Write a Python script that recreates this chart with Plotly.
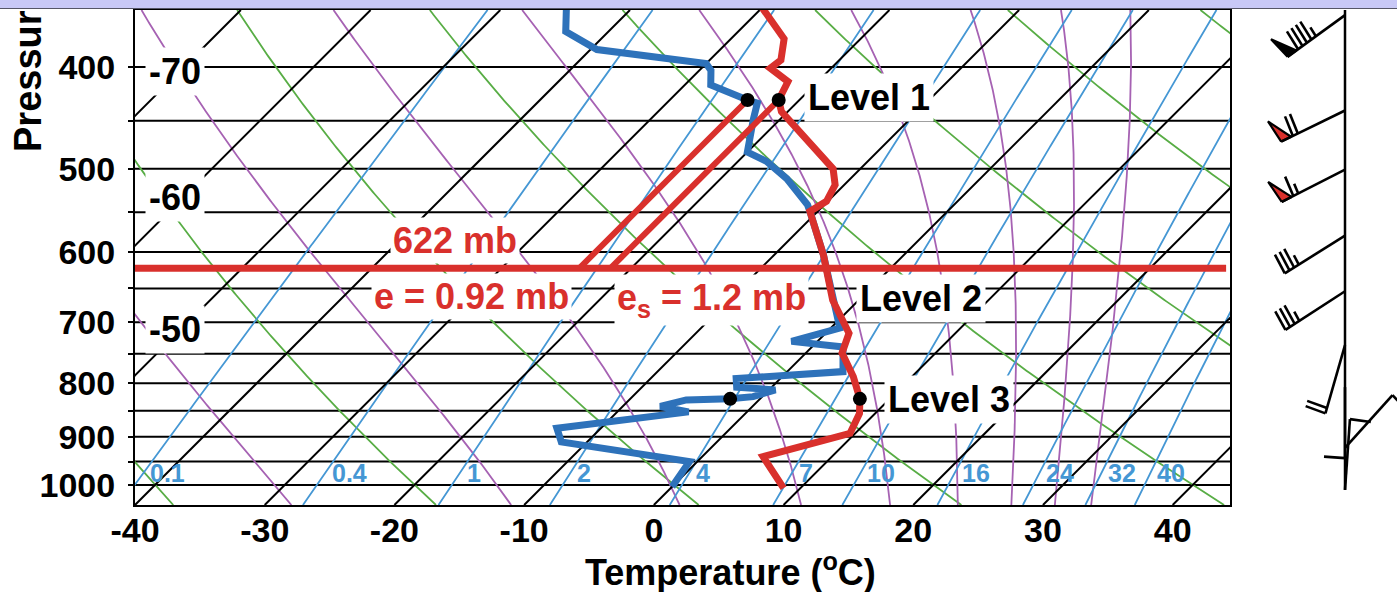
import numpy as np
import plotly.graph_objects as go

# ---------------------------------------------------------------- data
# Temperature sounding (pressure in mb, temperature in degC)
temp_p = [350, 376, 394, 401, 413, 430, 441, 468, 500, 518, 537, 549, 604, 667,
          717, 749, 789, 828, 855, 893, 940, 1007]
temp_c = [-30.2, -25.9, -24.5, -24.7, -22.3, -21.6, -20.5, -16.5, -12.1, -10.7,
          -10.1, -10.6, -6.2, -2.0, 1.8, 2.8, 5.5, 7.7, 8.8, 9.6, 4.7, 8.7]

# Dew-point sounding
dewp_p = [350, 370, 385, 392, 397, 403, 416, 430, 433, 448, 482, 492, 511, 541,
          549, 604, 667, 709, 730, 739, 780, 792, 807, 812, 824, 828, 830, 842,
          852, 883, 910, 950, 1004]
dewp_c = [-45.2, -43.3, -39.5, -33.7, -30.0, -29.1, -28.0, -24.0, -23.0, -22.1,
          -20.0, -17.8, -14.9, -11.3, -10.6, -6.2, -2.0, 0.7, -2.0, 2.4, 4.3,
          -3.4, -2.7, 0.5, -0.7, -2.3, -5.6, -7.1, -4.5, -13.4, -12.0, -0.6, 0.0]

# Marked levels (T and Td dots)
dot_p = [430, 828]
dot_t = [-21.6, 7.7]
dot_td = [-24.0, -2.3]

level_names = ["Level 1", "Level 2", "Level 3"]
level_p = [428, 664, 830]

# Vapour-pressure construction at Level 1
e_level_p = 622
e_text = "e = 0.92 mb"
es_text = "e<sub>s</sub> = 1.2 mb"

# Background lines
isobars = list(range(400, 1001, 50))
isotherms = list(range(-80, 41, 10))
dry_adiabats = list(range(-40, 101, 20))        # potential temperature, degC
moist_adiabats = list(range(-30, 131, 20))      # equivalent potential temperature, degC
mixing_ratios = [0.1, 0.4, 1, 2, 4, 7, 10, 16, 24, 32, 40]   # g/kg
mixing_labels = ["0.1", "0.4", "1", "2", "4", "7", "10", "16", "24", "32", "40"]

# Axis ticks
p_ticks = list(range(400, 1001, 100))
p_minor = list(range(450, 1000, 100))
t_ticks = list(range(-40, 41, 10))
isotherm_tags = [(-70, 404), (-60, 533), (-50, 712)]

# Winds (pressure mb, direction deg, speed kt)
wind_p = [357, 440, 501, 579, 654, 736, 807, 922, 1011]
wind_dir = [234, 244, 243, 238, 237, 196, 180, 42, 4]
wind_kt = [95, 70, 65, 35, 35, 20, 10, 10, 10]

# ---------------------------------------------------------------- geometry
W, H = 1397, 592
M_L, M_R, M_T, M_B = 135, 0, 10, 87
PLOT_W = 1095
PAPER_W = W - M_L - M_R
PLOT_H = H - M_T - M_B
X_DOM = PLOT_W / PAPER_W
P_BOT, P_TOP = 1045.0, 353.0
X_MIN, X_MAX = -40.0, 44.42

px_per_deg = PLOT_W / (X_MAX - X_MIN)
px_per_lnp = PLOT_H / np.log(P_BOT / P_TOP)
SKEW = px_per_lnp / px_per_deg          # isotherms at 45 degrees


def skew_x(t, p):
    return np.asarray(t, float) + SKEW * np.log(P_BOT / np.asarray(p, float))


def paper(px, py):
    return (px - M_L) / PAPER_W, (H - M_B - py) / PLOT_H


def p_to_py(p):
    return M_T + px_per_lnp * np.log(p / P_TOP)


def es_hpa(tc):
    return 6.112 * np.exp(17.67 * tc / (tc + 243.5))


def t_from_es(es):
    a = np.log(es / 6.112)
    return 243.5 * a / (17.67 - a)


def theta_e_sat(tc, p):
    tk = tc + 273.15
    es = es_hpa(tc)
    r = 622.0 * es / (p - es)
    return tk * (1000.0 / p) ** (0.2854 * (1 - 0.28e-3 * r)) * \
        np.exp((3.376 / tk - 0.00254) * r * (1 + 0.81e-3 * r))


P_LINE = np.geomspace(P_BOT, P_TOP, 300)

GREEN = "#58ad45"
PURPLE = "#a662b3"
BLUE_LN = "#4597d4"
RED = "#d9302c"
BLUE_SND = "#2e72ba"
FONT = "Liberation Sans, Arial, sans-serif"

fig = go.Figure()


def add_line(x, y, color, width, xa="x", ya="y"):
    fig.add_trace(go.Scatter(x=x, y=y, mode="lines", xaxis=xa, yaxis=ya,
                             line=dict(color=color, width=width),
                             hoverinfo="skip", showlegend=False))


# isobars
xs, ys = [], []
for p in isobars:
    xs += [X_MIN - 5, X_MAX + 5, None]
    ys += [p, p, None]
add_line(xs, ys, "black", 2)

# dry adiabats
xs, ys = [], []
for th in dry_adiabats:
    t = (th + 273.15) * (P_LINE / 1000.0) ** 0.2857 - 273.15
    xs += list(skew_x(t, P_LINE)) + [None]
    ys += list(P_LINE) + [None]
add_line(xs, ys, GREEN, 1.8)

# saturated adiabats (constant theta-e), solved by bisection
xs, ys = [], []
for the in moist_adiabats:
    target = the + 273.15
    lo = np.full_like(P_LINE, -130.0)
    hi = np.full_like(P_LINE, 60.0)
    for _ in range(60):
        mid = 0.5 * (lo + hi)
        big = theta_e_sat(mid, P_LINE) > target
        hi = np.where(big, mid, hi)
        lo = np.where(big, lo, mid)
    t = 0.5 * (lo + hi)
    xs += list(skew_x(t, P_LINE)) + [None]
    ys += list(P_LINE) + [None]
add_line(xs, ys, PURPLE, 1.8)

# mixing-ratio lines
xs, ys = [], []
for w in mixing_ratios:
    t = t_from_es(w * P_LINE / (622.0 + w))
    xs += list(skew_x(t, P_LINE)) + [None]
    ys += list(P_LINE) + [None]
add_line(xs, ys, BLUE_LN, 1.8)

# isotherms
xs, ys = [], []
for t in isotherms:
    xs += list(skew_x([t, t], [P_BOT, P_TOP])) + [None]
    ys += [P_BOT, P_TOP, None]
add_line(xs, ys, "black", 2)

# soundings
add_line(skew_x(dewp_c, dewp_p), dewp_p, BLUE_SND, 7)
add_line(skew_x(temp_c, temp_p), temp_p, RED, 7)

# isotherms from Level 1 down to the 622 mb isobar
for t in (dot_td[0], dot_t[0]):
    add_line(skew_x([t, t], [dot_p[0], e_level_p]), [dot_p[0], e_level_p], RED, 6)
add_line([X_MIN, X_MAX - 0.3], [e_level_p, e_level_p], RED, 7)

# level dots
fig.add_trace(go.Scatter(x=np.concatenate([skew_x(dot_td, dot_p), skew_x(dot_t, dot_p)]),
                         y=dot_p + dot_p, mode="markers",
                         marker=dict(color="black", size=14),
                         hoverinfo="skip", showlegend=False))

# ---------------------------------------------------------------- wind barbs
STAFF, FEATHER, GAP, PENN = 71.0, 21.0, 5.5, 11.0
PANEL_STAFF_X = 115.0
y_px_per_log10 = PLOT_H / np.log10(P_BOT / P_TOP)
pennant_fill = ["black", RED, RED, "black", "black", "black", "black", "black", "black"]

add_line([PANEL_STAFF_X, PANEL_STAFF_X], [np.log10(P_TOP), np.log10(1011)], "black", 2.5,
         xa="x2", ya="y2")

bx, by = [], []
for k, (p, d, s) in enumerate(zip(wind_p, wind_dir, wind_kt)):
    rad = np.radians(d)
    u = np.array([np.sin(rad), np.cos(rad)])     # toward source, y up
    n = np.array([np.cos(rad), -np.sin(rad)])    # feather side
    lp = np.log10(p)

    def pt(v):
        return PANEL_STAFF_X + v[0], lp - v[1] / y_px_per_log10

    base = np.zeros(2)
    tip = u * STAFF
    segs = [(base, tip)]
    n50, rest = divmod(s, 50)
    n10, rest = divmod(rest, 10)
    n5 = rest // 5
    pos = 0.0
    for _ in range(n50):
        a = tip - u * pos
        b = a - u * PENN
        apex = a + n * 24 + u * 3
        tx, ty = zip(*[pt(a), pt(apex), pt(b), pt(a)])
        fig.add_trace(go.Scatter(x=tx, y=ty, mode="lines", fill="toself",
                                 fillcolor=pennant_fill[k], xaxis="x2", yaxis="y2",
                                 line=dict(color="black", width=2.2),
                                 hoverinfo="skip", showlegend=False))
        pos += PENN + 2
    for _ in range(n10):
        a = tip - u * pos
        segs.append((a, a + n * FEATHER - u * 1.5))
        pos += GAP
    for _ in range(n5):
        a = tip - u * pos
        segs.append((a, a + n * FEATHER * 0.5 - u * 0.8))
    for a, b in segs:
        (x0, y0), (x1, y1) = pt(a), pt(b)
        bx += [x0, x1, None]
        by += [y0, y1, None]
add_line(bx, by, "black", 2.6, xa="x2", ya="y2")

# ---------------------------------------------------------------- annotations
ann = []


def text(xp, yp, s, size, color="black", bg=None, xanchor="center", yanchor="middle",
         angle=0, pad=2):
    x, y = paper(xp, yp)
    ann.append(dict(x=x, y=y, xref="paper", yref="paper", text=s, showarrow=False,
                    xanchor=xanchor, yanchor=yanchor, textangle=angle,
                    font=dict(family=FONT, size=size, color=color),
                    bgcolor=bg, borderpad=pad))


text(28, 155, "<b>Pressure (mb)</b>", 38, yanchor="bottom", angle=-90)
text(730, 570, "<b>Temperature (<sup>o</sup>C)</b>", 36)

# isotherm tags on the left
for t, p in isotherm_tags:
    text(175, p_to_py(p), "<b>%d</b>" % t, 36, bg="white", pad=3)

# vapour pressure labels
text(455, 240, "<b>622 mb</b>", 36, color=RED, bg="white", pad=2)
text(471, 296, "<b>%s</b>" % e_text, 36, color=RED, bg="white", pad=2)
text(711, 300, "<b>%s</b>" % es_text, 36, color=RED, bg="white", pad=2)

# level labels, right of the temperature curve
lnp_t = np.log(temp_p)
for name, p in zip(level_names, level_p):
    t = np.interp(np.log(p), lnp_t, temp_c)
    ann.append(dict(x=float(skew_x(t, p)), y=np.log10(p), xref="x", yref="y",
                    text="<b>%s</b>" % name, showarrow=False, xanchor="left",
                    yanchor="middle", xshift=24,
                    font=dict(family=FONT, size=36, color="black"),
                    bgcolor="white", borderpad=3))

# mixing ratio labels
P_LAB = 974.0
for w, lab in zip(mixing_ratios, mixing_labels):
    t = t_from_es(w * P_LAB / (622.0 + w))
    ann.append(dict(x=float(skew_x(t, P_LAB)), y=np.log10(P_LAB), xref="x", yref="y",
                    text="<b>%s</b>" % lab, showarrow=False, xanchor="left",
                    yanchor="middle", xshift=5,
                    font=dict(family=FONT, size=25, color=BLUE_LN)))

# header strip
bx0, by0 = paper(W / 2, 9)
ann.append(dict(x=bx0, y=by0, xref="paper", yref="paper", text=".", showarrow=False,
                xanchor="center", yanchor="bottom", width=W + 20, height=8,
                font=dict(size=4, color="#c8c8f6"),
                bgcolor="#c8c8f6", bordercolor="#555566", borderwidth=1, borderpad=0))

fig.update_layout(
    width=W, height=H,
    margin=dict(l=M_L, r=M_R, t=M_T, b=M_B),
    paper_bgcolor="white", plot_bgcolor="white",
    showlegend=False,
    annotations=ann,
    xaxis=dict(domain=[0, X_DOM], range=[X_MIN, X_MAX], showgrid=False, zeroline=False,
               showline=True, linecolor="black", linewidth=2, mirror=True,
               tickvals=t_ticks, ticktext=["<b>%d</b>" % t for t in t_ticks],
               ticks="", ticklabelstandoff=-6,
               tickfont=dict(family=FONT, size=34, color="black")),
    yaxis=dict(type="log", range=[np.log10(P_BOT), np.log10(P_TOP)], showgrid=False,
               zeroline=False, showline=True, linecolor="black", linewidth=2, mirror=True,
               tickvals=p_ticks, ticktext=["<b>%d</b>" % p for p in p_ticks],
               ticks="outside", ticklen=5, tickwidth=1.5, tickcolor="black",
               ticklabelstandoff=6,
               minor=dict(tickvals=p_minor, ticks="outside", ticklen=5, tickwidth=1.5,
                          tickcolor="black", showgrid=False),
               tickfont=dict(family=FONT, size=34, color="black")),
    xaxis2=dict(domain=[X_DOM, 1], range=[0, PAPER_W - PLOT_W], visible=False,
                anchor="y2"),
    yaxis2=dict(domain=[0, 1], range=[np.log10(P_BOT), np.log10(P_TOP)], visible=False,
                anchor="x2"),
)

fig.write_html("out.html")
